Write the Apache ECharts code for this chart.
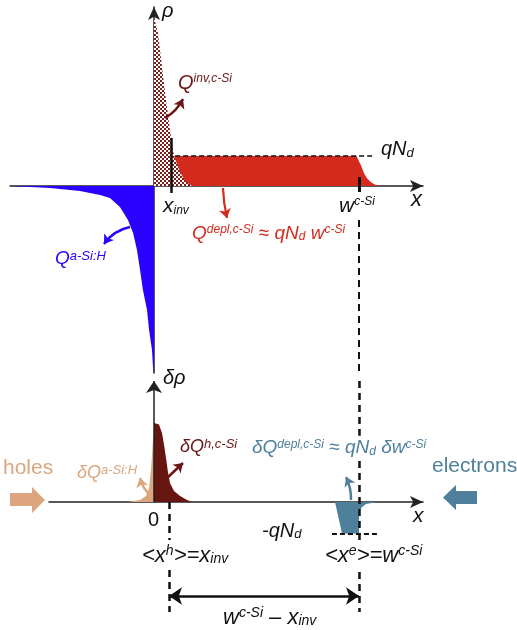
<!DOCTYPE html>
<html><head><meta charset="utf-8">
<script src="https://cdn.jsdelivr.net/npm/echarts@6/dist/echarts.min.js"></script>
<style>html,body{margin:0;padding:0;background:#fff}#c{width:517px;height:630px}</style>
</head><body><div id="c"></div>
<script>
// ---- data (x in units of w^{c-Si}, charge in units of qN_d) ----
const blueQaSiH = [[-0.702,0],[-0.507,-0.07],[-0.361,-0.17],[-0.263,-0.3],[-0.215,-0.4],[-0.166,-0.7],[-0.127,-1.13],[-0.102,-1.57],[-0.083,-2.13],[-0.068,-2.8],[-0.054,-3.47],[-0.034,-4.13],[-0.024,-4.8],[-0.0098,-5.47],[-0.0049,-6.03],[0,-6.23]];
const invCheck = [[0,5.63],[0.0195,5.1],[0.039,3.97],[0.0585,2.87],[0.078,1.87],[0.0976,1.0],[0.127,0.47],[0.151,0.17],[0.185,0]];
const deplRed = [[0.0976,1],[0.988,1],[0.998,0.85],[1.01,0.68],[1.025,0.42],[1.04,0.25],[1.06,0.12],[1.08,0.04],[1.10,0]];
const dQh = [[0,2.51],[0.0244,2.46],[0.039,2.19],[0.049,1.81],[0.0585,1.40],[0.068,0.95],[0.078,0.60],[0.0976,0.35],[0.127,0.19],[0.161,0.06],[0.185,0]];
const dQaSi = [[-0.127,0],[-0.068,0.06],[-0.039,0.19],[-0.024,0.44],[-0.0146,1.02],[-0.0049,1.97],[0,2.19]];
const dQdepl = [[0.883,0],[0.917,-1],[1.0,-1],[1.0,-0.32],[1.015,-0.16],[1.034,-0.06],[1.093,0]];
const xInvTop = 0.0829, xInvBot = 0.0732, wSi = 1.0, qNd = 1;

const FF = '"Liberation Sans", Arial, Helvetica, sans-serif';
const C = {blue:'#2a00ff', red:'#d42b1e', dred:'#661511', chk:'#7a1e1e', tan:'#dca57e', steel:'#4f809b', ink:'#111111', lab:'#6b1616'};

const pc = document.createElement('canvas'); pc.width = 4; pc.height = 4;
const g = pc.getContext('2d'); g.fillStyle = '#fff'; g.fillRect(0,0,4,4);
g.fillStyle = C.chk; g.fillRect(0,0,2,2); g.fillRect(2,2,2,2);

function area(data, color, gi, z) {
  return {type:'line', xAxisIndex:gi, yAxisIndex:gi, data, showSymbol:false, symbol:'none', silent:true,
    animation:false, clip:false, z, lineStyle:{width:0, opacity:0}, areaStyle:{color, opacity:1}, emphasis:{disabled:true}};
}
function segs(list, gi, color, width, o) {
  o = o || {};
  return {type:'lines', coordinateSystem:'cartesian2d', xAxisIndex:gi, yAxisIndex:gi, silent:true, animation:false,
    clip:false, z:o.z||5, symbol:o.symbol||['none','none'], symbolSize:o.size||10,
    lineStyle:{color, width, type:o.type||'solid', curveness:o.curve||0, opacity:1},
    emphasis:{disabled:true},
    data: list.map(s => ({coords:[s[0], s[1]]}))};
}
function rt(color, m, s) {
  const lh = Math.round(m*0.65);
  return {
    m:{fontSize:m, fontStyle:'italic', fontFamily:FF, fill:color, color, lineHeight:m},
    r:{fontSize:m, fontFamily:FF, fill:color, color, lineHeight:m},
    sup:{fontSize:s, fontStyle:'italic', fontFamily:FF, fill:color, color, lineHeight:lh, verticalAlign:'top'},
    sub:{fontSize:s, fontStyle:'italic', fontFamily:FF, fill:color, color, lineHeight:lh, verticalAlign:'bottom'}
  };
}
function txt(x, y, text, color, m, s) {
  return {type:'text', x, y, silent:true, z:100,
    style:{text, rich:rt(color,m,s), fill:color, font:'italic '+m+'px '+FF, verticalAlign:'middle', align:'left'}};
}
const axisCommon = {type:'value', axisTick:{show:false}, axisLabel:{show:false}, splitLine:{show:false}};
const axLine = {show:true, onZero:true, symbol:['none','arrow'], symbolSize:[9,13], lineStyle:{color:'#222', width:1.5}};

const option = {
  animation:false,
  grid:[{left:10, top:7, width:413, height:366}, {left:49, top:381, width:374, height:244}],
  xAxis:[
    Object.assign({gridIndex:0, min:-0.70244, max:1.31220, axisLine:axLine}, axisCommon),
    Object.assign({gridIndex:1, min:-0.51220, max:1.31220, axisLine:axLine}, axisCommon)
  ],
  yAxis:[
    Object.assign({gridIndex:0, min:-6.23333, max:5.96667, axisLine:axLine}, axisCommon),
    Object.assign({gridIndex:1, min:-3.90476, max:3.84127, axisLine:{show:false}}, axisCommon)
  ],
  series:[
    area(blueQaSiH, C.blue, 0, 2),
    area(deplRed, C.red, 0, 2),
    area(invCheck, {image:pc, repeat:'repeat'}, 0, 3),
    segs([[[xInvTop+0.02, qNd],[1.078, qNd]]], 0, C.ink, 1.5, {type:[5,3]}),
    segs([[[xInvTop,1.6],[xInvTop,-0.233]]], 0, C.ink, 2.5),
    segs([[[wSi,0.3],[wSi,-0.2]]], 0, C.ink, 3),
    segs([[[wSi,-1.133],[wSi,-6.233]]], 0, C.ink, 2, {type:[7,5]}),
    segs([[[0.0537,2.267],[0.1415,2.9]]], 0, C.lab, 2.5, {symbol:['none','arrow'], size:9, curve:-0.15}),
    segs([[[-0.117,-1.367],[-0.244,-1.933]]], 0, C.blue, 2.5, {symbol:['none','arrow'], size:9, curve:-0.2}),
    segs([[[0.3366,-0.067],[0.356,-1.067]]], 0, C.red, 2.2, {symbol:['none','arrow'], size:9, curve:-0.05}),

    area(dQaSi, C.tan, 1, 2),
    area(dQh, C.dred, 1, 2),
    area(dQdepl, C.steel, 1, 2),
    segs([[[0.868,-qNd],[1.093,-qNd]]], 1, C.ink, 1.8, {type:[5,3], z:8}),
    segs([[[0,0],[0,3.84127]]], 1, '#222', 1.5, {symbol:['none','arrow'], size:[9,12], z:6}),
    segs([[[xInvBot,0],[xInvBot,-1.206]],[[xInvBot,-2.159],[xInvBot,-3.492]]], 1, C.ink, 2.5, {type:[7,5]}),
    segs([[[wSi,3.84127],[wSi,2.1]],[[wSi,1.3],[wSi,-1.365]],[[wSi,-2.222],[wSi,-3.492]]], 1, C.ink, 2.5, {type:[7,5], z:7}),
    segs([[[xInvBot,-2.984],[wSi,-2.984]]], 1, C.ink, 2.5, {symbol:['arrow','arrow'], size:13}),
    segs([[[-0.0195,0.222],[-0.068,0.762]]], 1, C.tan, 2.5, {symbol:['none','arrow'], size:9, curve:0.15}),
    segs([[[0.0634,0.762],[0.1415,1.238]]], 1, C.lab, 2.5, {symbol:['none','arrow'], size:9}),
    segs([[[0.961,0.063],[0.937,0.794]]], 1, C.steel, 2.5, {symbol:['none','arrow'], size:9, curve:-0.12})
  ],
  graphic:[
    {type:'polygon', silent:true, shape:{points:[[10,493],[32,493],[32,487],[45,500],[32,513],[32,506],[10,506]]}, style:{fill:C.tan}},
    {type:'polygon', silent:true, shape:{points:[[477,491],[456,491],[456,485],[443,497.5],[456,510],[456,504],[477,504]]}, style:{fill:C.steel}},
    txt(162, 11, '{m|ρ}', C.ink, 20, 12),
    txt(178, 83, '{m|Q}{sup|inv,c-Si}', C.lab, 20, 12),
    txt(381, 149.5, '{m|qN}{sub|d}', C.ink, 20, 13),
    txt(411, 199.5, '{m|x}', C.ink, 22, 13),
    txt(339, 206, '{m|w}{sup|c-Si}', C.ink, 21, 12),
    txt(163, 206, '{m|x}{sub|inv}', C.ink, 21, 12),
    txt(192, 233.5, '{m|Q}{sup|depl,c-Si}{r| ≈ }{m|qN}{sub|d}{m| w}{sup|c-Si}', C.red, 19, 12),
    txt(55, 259, '{m|Q}{sup|a-Si:H}', C.blue, 19, 13),
    txt(163, 378, '{m|δρ}', C.ink, 20, 12),
    txt(3, 468, '{r|holes}', C.tan, 21, 13),
    txt(77, 473, '{m|δQ}{sup|a-Si:H}', C.tan, 18, 13),
    txt(180, 447, '{m|δQ}{sup|h,c-Si}', C.lab, 18, 13),
    txt(252, 448, '{m|δQ}{sup|depl,c-Si}{r| ≈ }{m|qN}{sub|d}{m| δw}{sup|c-Si}', C.steel, 19, 12),
    txt(432, 466, '{r|electrons}', C.steel, 21, 13),
    txt(148, 520, '{r|0}', C.ink, 20, 12),
    txt(413, 516, '{m|x}', C.ink, 21, 12),
    txt(262, 531, '{m|-qN}{sub|d}', C.ink, 20, 13),
    txt(142, 555.5, '{m|<x}{sup|h}{m|>=x}{sub|inv}', C.ink, 22, 14),
    txt(325, 555.5, '{m|<x}{sup|e}{m|>=w}{sup|c-Si}', C.ink, 22, 14),
    txt(223, 617.5, '{m|w}{sup|c-Si}{m| – x}{sub|inv}', C.ink, 22, 14)
  ]
};
const chart = echarts.init(document.getElementById('c'));
chart.setOption(option);
</script></body></html>
